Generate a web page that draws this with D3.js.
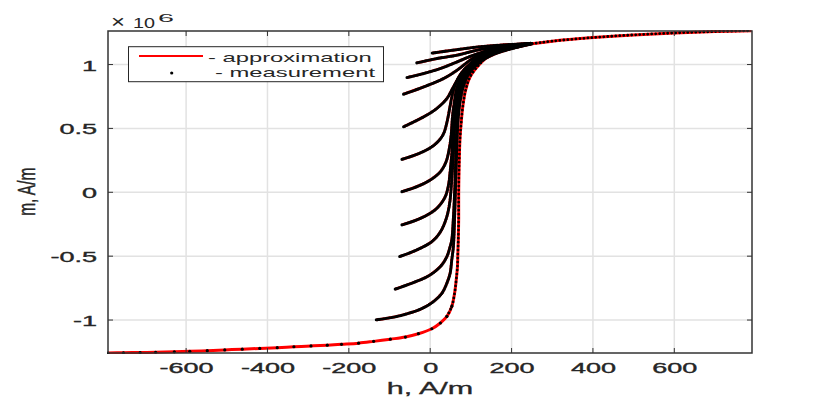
<!DOCTYPE html>
<meta charset="utf-8">
<script src="https://d3js.org/d3.v7.min.js"></script>
<style>
  body { margin: 0; background: #fff; }
  text { font-family: "Liberation Sans", Arial, sans-serif; fill: #262626; }
</style>
<div id="chart"></div>
<script>

// ascending major branch, h in A/m, m in 10^6 A/m
var mainH = [-792, -754, -713, -675, -629, -591, -548, -505, -462, -419, -376, -335, -293, -253, -218, -176, -139, -98, -61, -29,
             4, 25, 41, 53, 60, 64, 67, 68, 69, 70, 70, 71, 73, 76, 80, 87, 98, 123, 147, 172, 200, 250, 300, 400, 500, 600, 700, 790];
var mainM = [-1.258, -1.256, -1.254, -1.252, -1.249, -1.245, -1.240, -1.234, -1.228, -1.222, -1.216, -1.209, -1.203, -1.197, -1.190, -1.181, -1.167, -1.150, -1.133, -1.107,
             -1.068, -1.023, -0.972, -0.894, -0.789, -0.685, -0.581, -0.477, -0.373, -0.2, 0, 0.2, 0.408, 0.539, 0.669, 0.799, 0.903, 1.008, 1.075, 1.11, 1.135, 1.162, 1.183, 1.211, 1.232, 1.247, 1.258, 1.265];

// first order reversal curves [h, m]
var forc1 = [[5, 1.09], [57, 1.113], [115, 1.137], [172, 1.152], [250, 1.166]];
var forc2 = [[-33, 1.013], [16, 1.047], [65.5, 1.073], [115, 1.112], [172, 1.145], [250, 1.166]];
var forc3 = [[-57, 0.898], [-16, 0.930], [25, 0.969], [65.5, 1.02], [106, 1.073], [150, 1.115], [200, 1.145], [250, 1.165]];
var forc4 = [[-65.5, 0.768], [-16, 0.825], [33, 0.891], [65.5, 0.955], [98, 1.034], [131, 1.098], [172, 1.13], [250, 1.165]];
var forc5 = [[-65.4, 0.513], [-16, 0.591], [16, 0.656], [41, 0.734], [57, 0.825], [74, 0.916], [98, 1.0], [131, 1.08], [172, 1.125], [250, 1.165]];
var forc6 = [[-69.5, 0.258], [-33, 0.297], [0, 0.348], [20, 0.40], [33, 0.46], [42, 0.56], [48, 0.66], [55, 0.77], [64, 0.86], [78, 0.94], [100, 1.01], [131, 1.086], [172, 1.13], [250, 1.165]];
var forc7 = [[-69.5, 0.005], [-33, 0.044], [0, 0.096], [25, 0.161], [39, 0.239], [47, 0.344], [51.5, 0.448], [55, 0.6], [60, 0.72], [66, 0.82], [80, 0.92], [100, 0.99], [131, 1.07], [172, 1.125], [250, 1.165]];
var forc8 = [[-69.5, -0.255], [-33, -0.216], [0, -0.164], [20, -0.113], [37, -0.034], [45, 0.057], [49, 0.161], [53, 0.3], [56, 0.45], [60, 0.6], [65, 0.72], [72, 0.83], [85, 0.92], [105, 0.99], [135, 1.06], [172, 1.12], [250, 1.165]];
var forc9 = [[-75, -0.503], [-33, -0.451], [4, -0.386], [25, -0.31], [40, -0.2], [48, -0.08], [53, 0.1], [57, 0.3], [60, 0.5], [64, 0.65], [70, 0.78], [80, 0.88], [95, 0.96], [120, 1.03], [160, 1.1], [250, 1.165]];
var forc10 = [[-86, -0.758], [-41, -0.706], [-4, -0.654], [25, -0.581], [41, -0.503], [49, -0.425], [53, -0.373], [57, -0.2], [60, 0], [62, 0.2], [64, 0.4], [67, 0.6], [72, 0.74], [82, 0.86], [95, 0.94], [120, 1.02], [160, 1.09], [250, 1.163]];
var forc11 = [[-132.5, -0.998], [-90, -0.977], [-57, -0.951], [-20, -0.909], [8, -0.855], [29, -0.789], [41, -0.711], [49, -0.633], [53, -0.529], [57, -0.425], [60, -0.2], [62, 0], [64, 0.2], [66, 0.4], [69, 0.58], [74, 0.72], [84, 0.85], [98, 0.94], [123, 1.02], [160, 1.085], [250, 1.163]];
var forcs = [forc1, forc2, forc3, forc4, forc5, forc6, forc7, forc8, forc9, forc10, forc11];

var xTicks = [-600, -400, -200, 0, 200, 400, 600];
var yTicks = [-1, -0.5, 0, 0.5, 1];
var yTickLabels = ["-1", "-0.5", "0", "0.5", "1"];

var margin = {top: 31, left: 108},
    width = 644,
    height = 322;

var svg = d3.select("#chart").append("svg")
    .attr("width", 830)
    .attr("height", 398);

var g = svg.append("g")
    .attr("transform", "translate(" + margin.left + "," + margin.top + ")");

var x = d3.scaleLinear().domain([-792, 791]).range([0, width]);
var y = d3.scaleLinear().domain([-1.258, 1.2625]).range([height, 0]);

// grid
g.selectAll(".gx").data(xTicks).enter().append("line")
    .attr("x1", function(d) { return x(d); }).attr("x2", function(d) { return x(d); })
    .attr("y1", 0).attr("y2", height)
    .attr("stroke", "#e2e2e2").attr("stroke-width", 1.5);
g.selectAll(".gy").data(yTicks).enter().append("line")
    .attr("y1", function(d) { return y(d); }).attr("y2", function(d) { return y(d); })
    .attr("x1", 0).attr("x2", width)
    .attr("stroke", "#e2e2e2").attr("stroke-width", 1.5);

svg.append("clipPath").attr("id", "clip")
  .append("rect").attr("width", width + 2).attr("height", height + 2).attr("x", -1).attr("y", -1);

var plot = g.append("g").attr("clip-path", "url(#clip)");

var line = d3.line()
    .x(function(d) { return x(d[0]); })
    .y(function(d) { return y(d[1]); })
    .curve(d3.curveCatmullRom.alpha(0.5));

var mainPts = mainH.map(function(h, i) { return [h, mainM[i]]; });

// approximation (red)
plot.selectAll(".forcRed").data(forcs).enter().append("path")
    .attr("d", line)
    .attr("fill", "none").attr("stroke", "#ff0000").attr("stroke-width", 2.8);
plot.append("path").datum(mainPts).attr("d", line)
    .attr("fill", "none").attr("stroke", "#ff0000").attr("stroke-width", 3);

// measurement (black dots)
plot.selectAll(".forcDots").data(forcs).enter().append("path")
    .attr("d", line)
    .attr("fill", "none").attr("stroke", "#000")
    .attr("stroke-width", 3.1).attr("stroke-linecap", "round")
    .attr("stroke-dasharray", "0 1.5");

plot.append("path").datum(mainPts.filter(function(d) { return d[0] >= 41; }))
    .attr("d", line)
    .attr("fill", "none").attr("stroke", "#000")
    .attr("stroke-width", 2.8).attr("stroke-linecap", "round")
    .attr("stroke-dasharray", "0 4");

plot.selectAll(".mainDot").data(mainPts.filter(function(d) { return d[0] <= 53; })).enter().append("circle")
    .attr("cx", function(d) { return x(d[0]); })
    .attr("cy", function(d) { return y(d[1]); })
    .attr("r", 1.6)
    .attr("fill", "#000");

// axes box and inward ticks
var axisCol = "#333";
g.append("rect").attr("width", width).attr("height", height)
    .attr("fill", "none").attr("stroke", axisCol).attr("stroke-width", 1.5);

var tl = 5;
xTicks.forEach(function(d) {
  g.append("line").attr("x1", x(d)).attr("x2", x(d)).attr("y1", height).attr("y2", height - tl).attr("stroke", axisCol);
  g.append("line").attr("x1", x(d)).attr("x2", x(d)).attr("y1", 0).attr("y2", tl).attr("stroke", axisCol);
});
yTicks.forEach(function(d) {
  g.append("line").attr("y1", y(d)).attr("y2", y(d)).attr("x1", 0).attr("x2", tl).attr("stroke", axisCol);
  g.append("line").attr("y1", y(d)).attr("y2", y(d)).attr("x1", width).attr("x2", width - tl).attr("stroke", axisCol);
});

// tick labels (stretched text like the original figure)
var gx = g.append("g").attr("transform", "translate(0," + height + ")")
    .call(d3.axisBottom(x).tickValues(xTicks).tickSize(0).tickFormat(function(d) { return String(d); }));
gx.select(".domain").remove();
gx.selectAll("text").attr("y", null).attr("dy", null)
    .attr("transform", "translate(0,20) scale(1.93,1)")
    .style("font-size", "14px").style("font-family", "Liberation Sans, Arial, sans-serif")
    .attr("fill", "#262626").attr("stroke", "#262626").attr("stroke-width", 0.35);

var gy = g.append("g")
    .call(d3.axisLeft(y).tickValues(yTicks).tickSize(0).tickFormat(function(d, i) { return yTickLabels[i]; }));
gy.select(".domain").remove();
gy.selectAll("text").attr("x", null).attr("dy", null)
    .attr("transform", "translate(-11,5.5) scale(1.93,1)")
    .style("font-size", "14px").style("font-family", "Liberation Sans, Arial, sans-serif")
    .attr("fill", "#262626").attr("stroke", "#262626").attr("stroke-width", 0.35);

// axis labels
svg.append("text").attr("x", 386.7).attr("y", 394)
    .attr("textLength", 86.6).attr("lengthAdjust", "spacingAndGlyphs")
    .attr("stroke", "#262626").attr("stroke-width", 0.3)
    .style("font-size", "17px").text("h, A/m");

svg.append("text").attr("transform", "translate(35,191.7) scale(1.6,1) rotate(-90)")
    .attr("text-anchor", "middle")
    .attr("stroke", "#262626").attr("stroke-width", 0.3)
    .style("font-size", "15.5px").text("m, A/m");

// exponent
svg.append("text").attr("x", 111).attr("y", 28)
    .attr("textLength", 14).attr("lengthAdjust", "spacingAndGlyphs")
    .style("font-size", "19px").attr("fill", "#555").text("×");
svg.append("text").attr("x", 133).attr("y", 27.7)
    .attr("textLength", 22).attr("lengthAdjust", "spacingAndGlyphs")
    .style("font-size", "15.4px").text("10");
svg.append("text").attr("x", 158).attr("y", 21.7)
    .attr("textLength", 16).attr("lengthAdjust", "spacingAndGlyphs")
    .style("font-size", "11.5px").text("6");

// legend
var lg = svg.append("g");
lg.append("rect").attr("x", 128.5).attr("y", 46.7).attr("width", 255).attr("height", 35)
    .attr("fill", "#fff").attr("stroke", "#262626").attr("stroke-width", 1);
lg.append("line").attr("x1", 139).attr("x2", 203).attr("y1", 56).attr("y2", 56)
    .attr("stroke", "#ff0000").attr("stroke-width", 2);
lg.append("circle").attr("cx", 171.7).attr("cy", 73).attr("r", 1.6).attr("fill", "#000");
lg.append("text").attr("x", 208).attr("y", 61.7)
    .attr("textLength", 163.7).attr("lengthAdjust", "spacingAndGlyphs")
    .style("font-size", "13px").text("- approximation");
lg.append("text").attr("x", 215).attr("y", 76.7)
    .attr("textLength", 160).attr("lengthAdjust", "spacingAndGlyphs")
    .style("font-size", "13px").text("- measurement");

</script>
